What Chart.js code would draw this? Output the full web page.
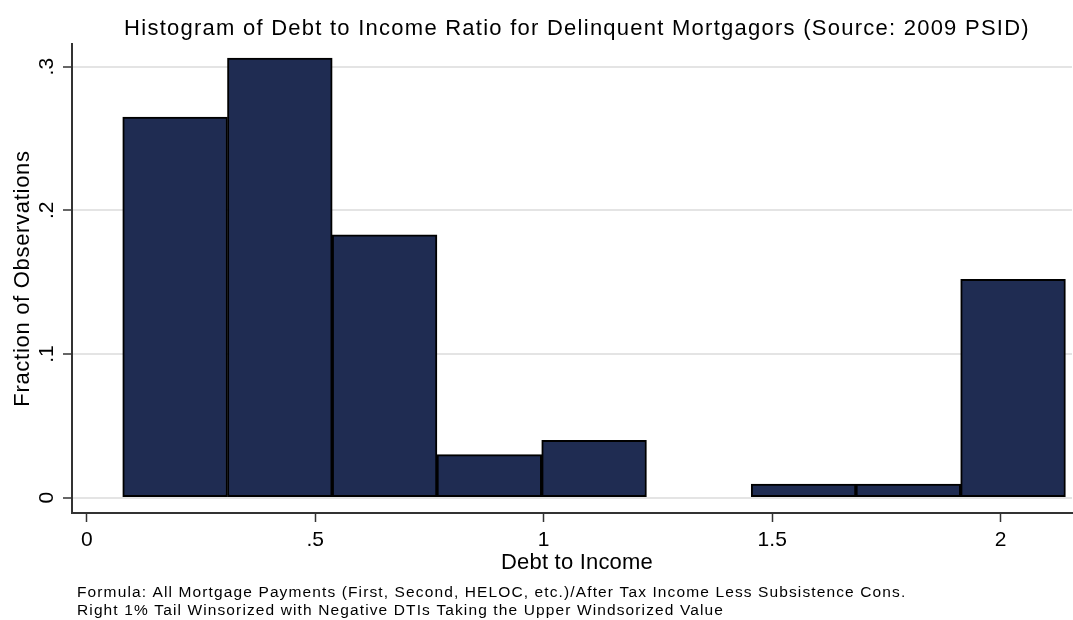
<!DOCTYPE html>
<html>
<head>
<meta charset="utf-8">
<script src="https://cdn.jsdelivr.net/npm/chart.js@4.4.1/dist/chart.umd.min.js"></script>
<style>
  html, body { margin: 0; padding: 0; background: #fff; }
  canvas { display: block; }
</style>
</head>
<body>
<canvas id="chart" width="1073" height="620"></canvas>
<script>
// bin centres (debt to income) and fraction of observations per bin
const binCenters = [0.1934, 0.4226, 0.6518, 0.8810, 1.1102, 1.3394, 1.5686, 1.7978, 2.0270];
const fractions = [0.265, 0.306, 0.183, 0.030, 0.040, 0, 0.0095, 0.0095, 0.152];
const xTicks = [0, 0.5, 1, 1.5, 2];
const yTicks = [0, 0.1, 0.2, 0.3];

const titleText = 'Histogram of Debt to Income Ratio for Delinquent Mortgagors (Source: 2009 PSID)';
const xTitle = 'Debt to Income';
const yTitle = 'Fraction of Observations';
const notes = [
    'Formula: All Mortgage Payments (First, Second, HELOC, etc.)/After Tax Income Less Subsistence Cons.',
    'Right 1% Tail Winsorized with Negative DTIs Taking the Upper Windsorized Value'
];

const FONT = "'Liberation Sans', Arial, sans-serif";

// Stata style labels: .5 instead of 0.5
function fmt(v) {
    if (v === 0) return '0';
    return String(v).replace(/^0\./, '.');
}

// letterSpacing where the browser has it (reference text is set wider)
function spacing(ctx, px) {
    if ('letterSpacing' in ctx) ctx.letterSpacing = px + 'px';
}

const textPlugin = {
    id: 'stataText',
    afterDraw(chart) {
        const ctx = chart.ctx;
        const yScale = chart.scales.y;
        ctx.save();
        ctx.fillStyle = '#000';
        ctx.textBaseline = 'alphabetic';

        // title
        ctx.font = `22px ${FONT}`;
        ctx.textAlign = 'center';
        spacing(ctx, 1.25);
        ctx.fillText(titleText, 577, 34.5);

        // x axis title
        spacing(ctx, 0.2);
        ctx.fillText(xTitle, 577, 569);

        // y tick labels, rotated
        ctx.font = `21px ${FONT}`;
        spacing(ctx, 0);
        yScale.ticks.forEach(t => {
            const y = yScale.getPixelForValue(t.value);
            ctx.save();
            ctx.translate(53, y);
            ctx.rotate(-Math.PI / 2);
            ctx.textAlign = 'center';
            ctx.fillText(fmt(t.value), 0, 0);
            ctx.restore();
        });

        // y axis title
        ctx.font = `22px ${FONT}`;
        spacing(ctx, 0.7);
        ctx.save();
        ctx.translate(29, (chart.chartArea.top + chart.chartArea.bottom) / 2);
        ctx.rotate(-Math.PI / 2);
        ctx.textAlign = 'center';
        ctx.fillText(yTitle, 0, 0);
        ctx.restore();

        // notes
        ctx.font = `15.5px ${FONT}`;
        spacing(ctx, 1.12);
        ctx.textAlign = 'left';
        notes.forEach((line, i) => {
            ctx.fillText(line, 77, 597 + i * 17.5);
        });

        ctx.restore();
    }
};

const chart = new Chart(document.getElementById('chart'), {
    type: 'bar',
    data: {
        datasets: [{
            data: binCenters.map((x, i) => ({ x: x, y: fractions[i] || null })),
            backgroundColor: '#1f2c52',
            borderColor: '#000',
            borderWidth: 2,
            borderSkipped: false,
            barPercentage: 1,
            categoryPercentage: 1
        }]
    },
    options: {
        responsive: false,
        animation: false,
        devicePixelRatio: 1,
        layout: {
            padding: { top: 44, right: 1, left: 0, bottom: 0 }
        },
        plugins: {
            legend: { display: false },
            tooltip: { enabled: false },
            title: { display: false }
        },
        scales: {
            x: {
                type: 'linear',
                min: -0.0322,
                max: 2.156,
                offset: false,
                afterBuildTicks: s => { s.ticks = xTicks.map(v => ({ value: v })); },
                afterFit: s => { s.height = 107; },
                grid: {
                    offset: false,
                    drawOnChartArea: false,
                    drawTicks: true,
                    tickLength: 9,
                    tickColor: '#333',
                    tickWidth: 1.5
                },
                border: { color: '#333', width: 2 },
                ticks: {
                    font: { family: FONT, size: 21 },
                    color: '#000',
                    padding: 6,
                    maxRotation: 0,
                    autoSkip: false,
                    callback: v => fmt(v)
                }
            },
            y: {
                min: -0.01065,
                max: 0.3158,
                afterBuildTicks: s => { s.ticks = yTicks.map(v => ({ value: v })); },
                afterFit: s => { s.width = 72; },
                grid: {
                    color: '#e4e4e4',
                    lineWidth: 2,
                    tickColor: '#333',
                    tickLength: 9,
                    tickWidth: 1.5
                },
                border: { color: '#333', width: 2 },
                ticks: { display: false }
            }
        }
    },
    plugins: [textPlugin]
});
</script>
</body>
</html>
